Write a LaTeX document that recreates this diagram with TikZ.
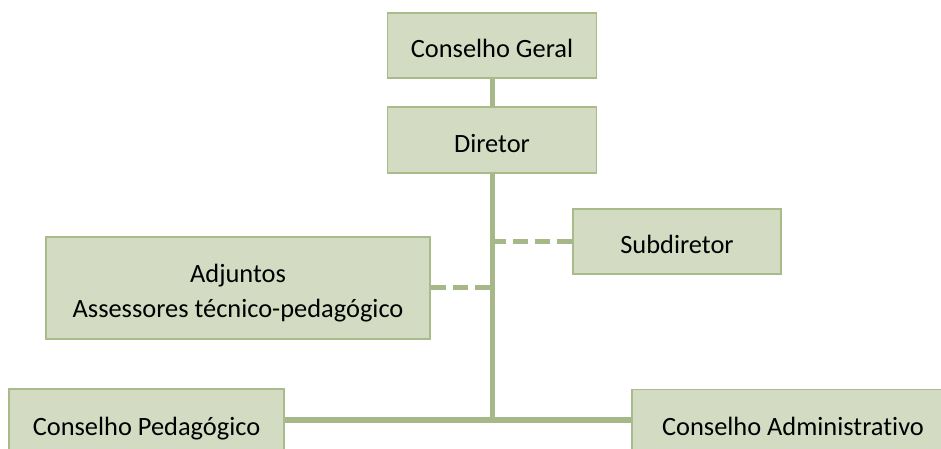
\documentclass[tikz,border=0pt]{standalone}
\usepackage{fontspec}
\setmainfont{Carlito}[Ligatures=NoCommon]
\definecolor{boxfill}{HTML}{D3DCC3}
\definecolor{boxline}{HTML}{A9BA8B}
\definecolor{linkline}{HTML}{A7B888}
\begin{document}
\begin{tikzpicture}[x=1bp,y=-1bp,
  orgbox/.style={draw=boxline,fill=boxfill,line width=1.5bp,inner sep=0pt,
    align=center,font=\fontsize{26.5}{34.7}\selectfont,text height=25bp,text depth=0pt},
  solidlink/.style={draw=linkline,line width=5bp},
  dashlink/.style={draw=linkline,line width=5bp,dash pattern=on 15bp off 7bp}]
  \useasboundingbox (0,0) rectangle (941,449);
  \clip (0,0) rectangle (941,449);
  \node[orgbox,minimum width=209bp,minimum height=65bp] (geral) at (492,45.5) {Conselho Geral};
  \node[orgbox,minimum width=209bp,minimum height=66bp] (diretor) at (492,140) {Diretor};
  \node[orgbox,minimum width=208bp,minimum height=65bp] (subdiretor) at (677,241.5) {Subdiretor};
  \node[orgbox,minimum width=384bp,minimum height=102bp,text height=59bp] (adjuntos) at (238,288) {Adjuntos\\Assessores técnico-pedagógico};
  \node[orgbox,minimum width=275bp,minimum height=67bp] (pedagogico) at (146.5,422.5) {Conselho Pedagógico};
  \node[orgbox,minimum width=322bp,minimum height=67bp] (administrativo) at (793,423) {Conselho Administrativo};
  \coordinate (juncao) at (492,420);
  \coordinate (ramosub) at (juncao |- subdiretor.west);
  \coordinate (ramoadj) at (juncao |- adjuntos.east);
  \draw[solidlink] (geral) -- (diretor);
  \draw[solidlink] (diretor.south) -- (juncao);
  \draw[solidlink] (pedagogico.east |- juncao) -- (administrativo.west |- juncao);
  \draw[dashlink] (subdiretor) -- (ramosub);
  \draw[dashlink] (adjuntos) -- (ramoadj);
\end{tikzpicture}
\end{document}
